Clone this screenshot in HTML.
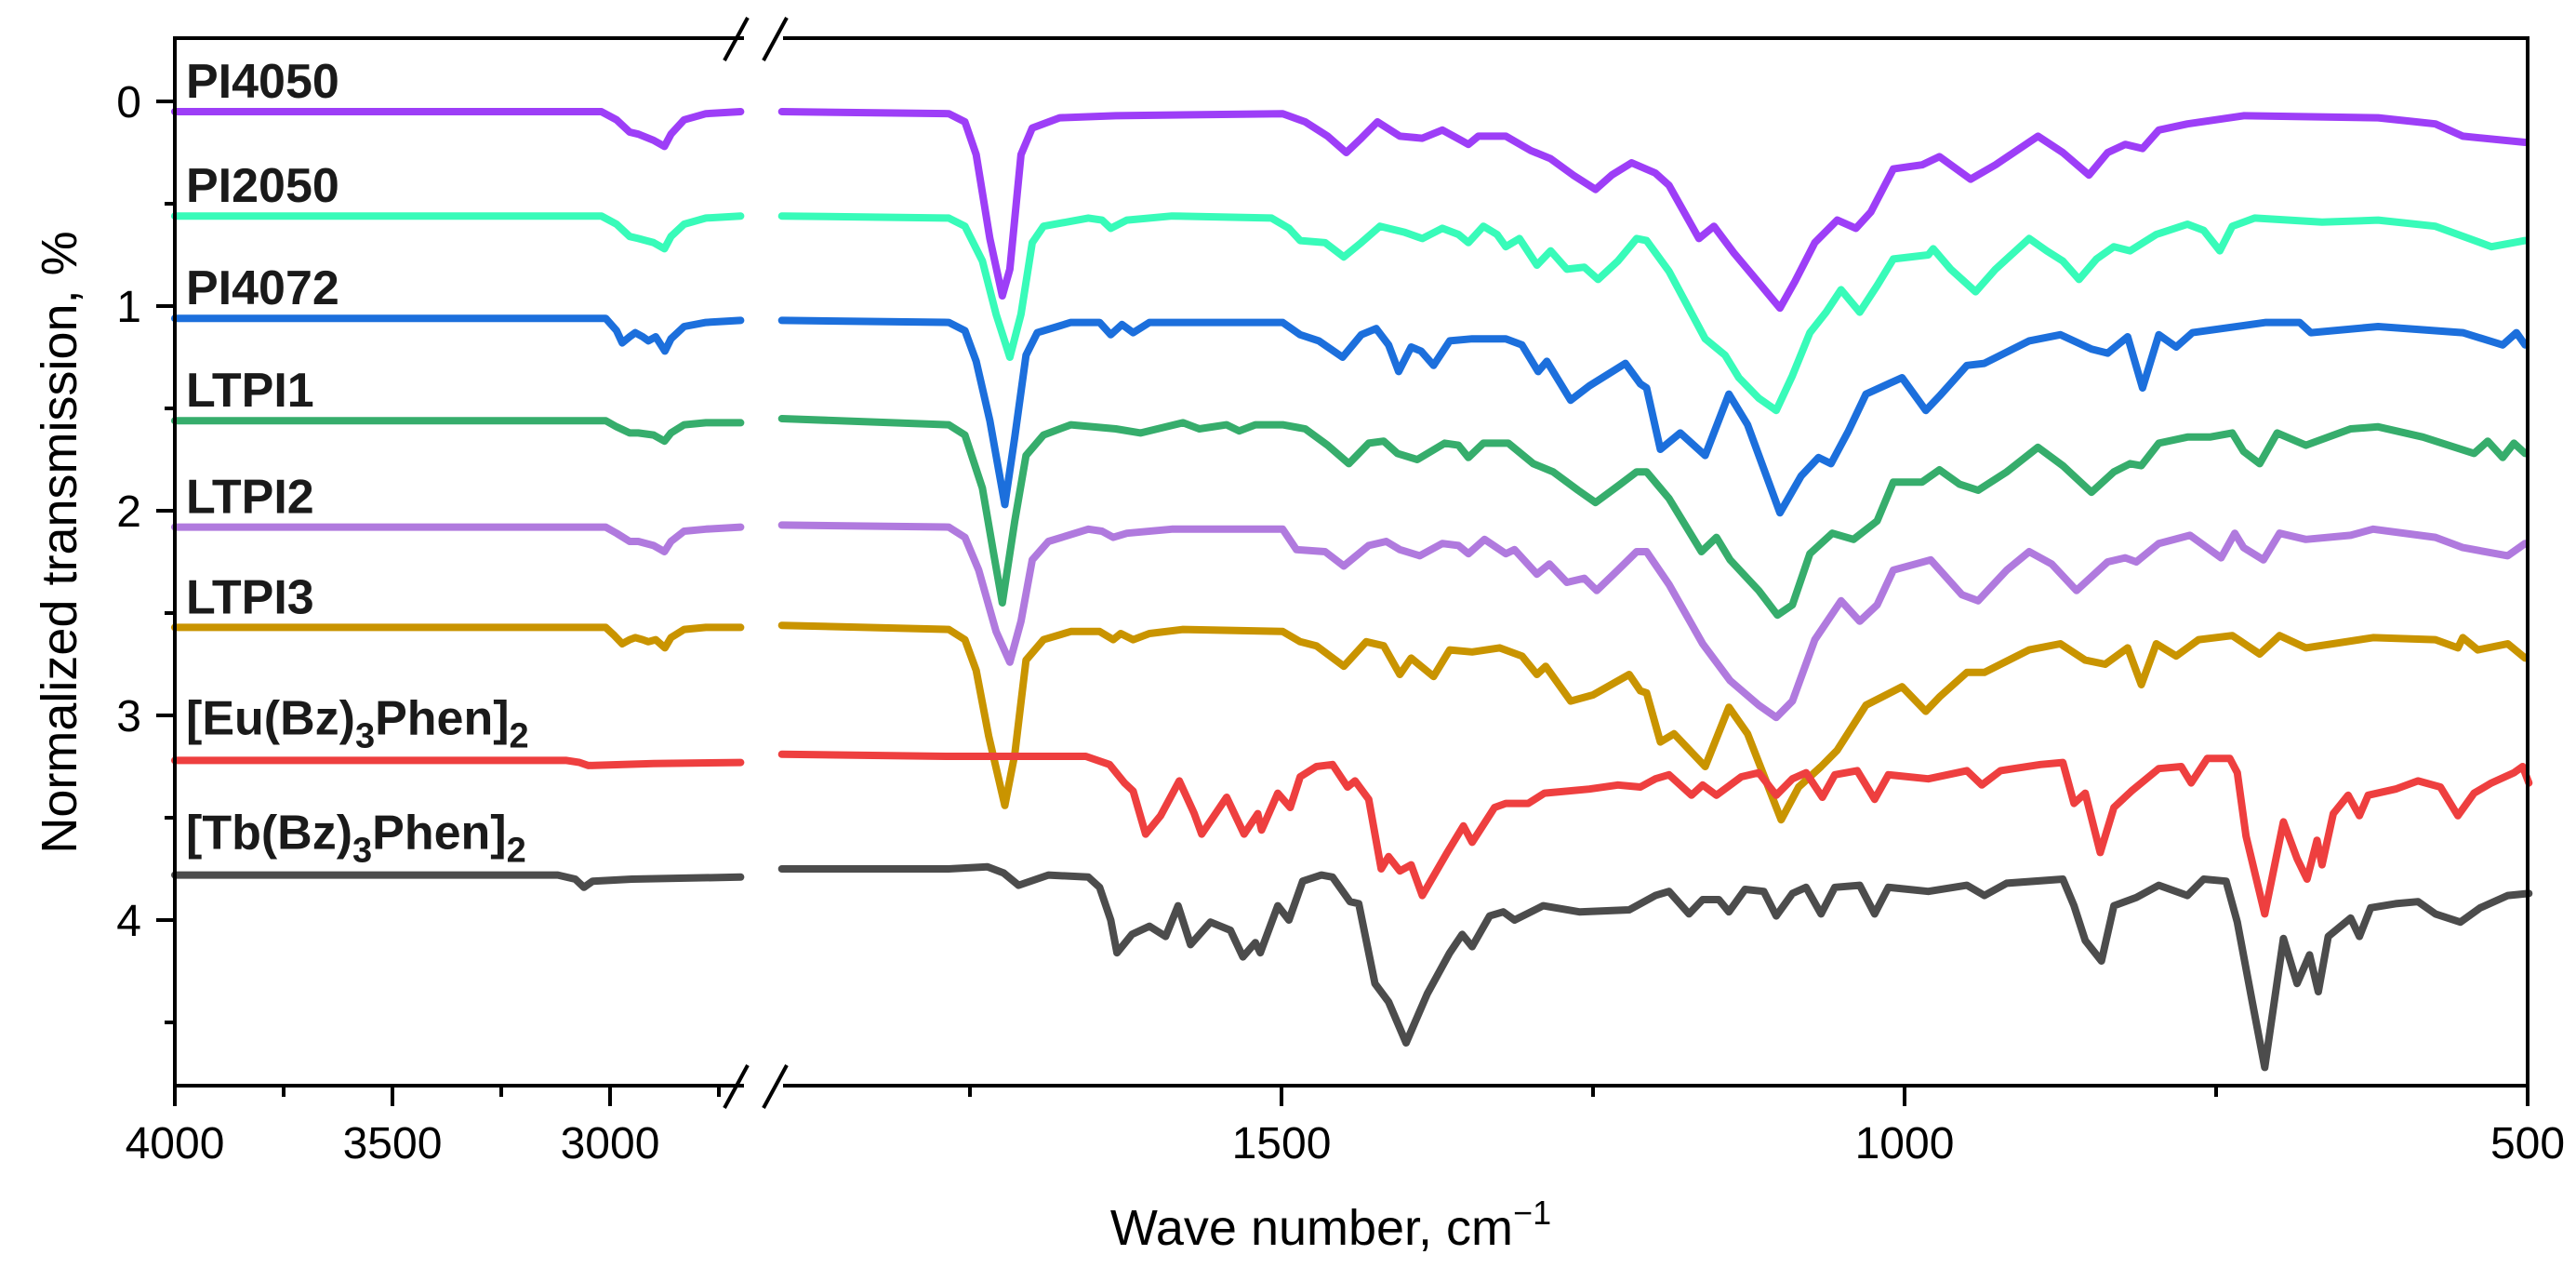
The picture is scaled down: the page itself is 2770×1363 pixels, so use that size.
<!DOCTYPE html>
<html><head><meta charset="utf-8"><title>FTIR spectra</title>
<style>
html,body{margin:0;padding:0;background:#fff;}
svg{display:block;font-family:"Liberation Sans",Arial,sans-serif;}
</style></head>
<body>
<svg id="chart" width="2770" height="1363" viewBox="0 0 2770 1363" xmlns="http://www.w3.org/2000/svg">
<rect x="0" y="0" width="2770" height="1363" fill="#fff"/>
<g id="series"></g>
<g id="axes"></g>
<g id="labels"></g>
</svg>
<script>
// ---- data (wavenumber, normalized transmission offset) ----
const yTicks = [0,1,2,3,4];
const xTicksLeft = [4000,3500,3000];
const xTicksRight = [1500,1000,500];
const xMinorLeft = [3750,3250,2750];
const xMinorRight = [1750,1250,750];
const seriesNames = ["PI4050","PI2050","PI4072","LTPI1","LTPI2","LTPI3","[Eu(Bz)3Phen]2","[Tb(Bz)3Phen]2"];
const seriesColors = ["#9d3ef7","#38fbb9","#1c6fdc","#36ad6c","#b07ade","#c99400","#ee3f3f","#4c4c4c"];

const pi4050WnL = [4000,3020,2985,2955,2935,2900,2875,2860,2830,2780,2700];
const pi4050ValL = [0.05,0.05,0.09,0.15,0.16,0.19,0.22,0.16,0.09,0.06,0.05];
const pi2050WnL = [4000,3020,2985,2955,2935,2900,2875,2860,2830,2780,2700];
const pi2050ValL = [0.56,0.56,0.60,0.66,0.67,0.69,0.72,0.66,0.60,0.57,0.56];
const pi4072WnL = [4000,3010,2985,2972,2955,2942,2925,2912,2895,2874,2860,2830,2780,2700];
const pi4072ValL = [1.06,1.06,1.12,1.18,1.15,1.13,1.15,1.17,1.15,1.22,1.16,1.10,1.08,1.07];
const ltpi1WnL = [4000,3010,2985,2955,2935,2900,2875,2860,2830,2780,2700];
const ltpi1ValL = [1.56,1.56,1.59,1.62,1.62,1.63,1.66,1.62,1.58,1.57,1.57];
const ltpi2WnL = [4000,3010,2985,2955,2935,2900,2875,2860,2830,2780,2700];
const ltpi2ValL = [2.08,2.08,2.11,2.15,2.15,2.17,2.20,2.15,2.10,2.09,2.08];
const ltpi3WnL = [4000,3010,2990,2972,2955,2942,2925,2912,2895,2874,2860,2830,2780,2700];
const ltpi3ValL = [2.57,2.57,2.61,2.65,2.63,2.62,2.63,2.64,2.63,2.67,2.62,2.58,2.57,2.57];
const euWnL = [4000,3500,3100,3070,3050,2900,2700];
const euValL = [3.22,3.22,3.22,3.23,3.245,3.235,3.23];
const tbWnL = [4000,3500,3120,3080,3060,3040,2950,2700];
const tbValL = [3.78,3.78,3.78,3.80,3.84,3.81,3.80,3.79];

const pi4050Wn = [1901,1767,1754,1745,1734,1724,1718,1709,1700,1678,1633,1499,1481,1463,1448,1436,1423,1405,1387,1371,1356,1350,1342,1320,1300,1284,1266,1248,1235,1219,1200,1189,1165,1153,1137,1115,1100,1088,1072,1054,1039,1027,1009,986,972,947,927,893,873,852,837,823,809,796,773,728,620,574,552,502];
const pi4050Val = [0.05,0.06,0.10,0.26,0.67,0.95,0.82,0.26,0.13,0.08,0.07,0.06,0.10,0.17,0.25,0.18,0.10,0.17,0.18,0.14,0.19,0.21,0.17,0.17,0.24,0.28,0.36,0.43,0.36,0.30,0.35,0.41,0.67,0.61,0.74,0.90,1.01,0.88,0.69,0.58,0.62,0.54,0.33,0.31,0.27,0.38,0.31,0.17,0.25,0.36,0.25,0.21,0.23,0.14,0.11,0.07,0.08,0.11,0.17,0.20];
const pi2050Wn = [1901,1767,1754,1740,1729,1718,1709,1700,1691,1655,1644,1637,1624,1588,1508,1494,1485,1465,1450,1436,1421,1401,1387,1371,1358,1350,1338,1327,1320,1309,1295,1284,1271,1257,1246,1230,1215,1207,1189,1160,1144,1133,1117,1103,1090,1076,1063,1051,1036,1022,1009,981,977,963,943,927,900,886,873,860,846,832,819,798,773,760,747,737,719,665,620,574,529,502];
const pi2050Val = [0.56,0.57,0.61,0.78,1.04,1.25,1.04,0.69,0.61,0.57,0.58,0.62,0.58,0.56,0.57,0.62,0.68,0.69,0.76,0.69,0.61,0.64,0.67,0.62,0.65,0.69,0.61,0.65,0.71,0.67,0.80,0.73,0.82,0.81,0.87,0.78,0.67,0.68,0.83,1.16,1.24,1.35,1.45,1.51,1.34,1.13,1.03,0.92,1.03,0.90,0.77,0.75,0.72,0.82,0.93,0.82,0.67,0.73,0.78,0.87,0.77,0.71,0.73,0.65,0.60,0.63,0.73,0.61,0.57,0.59,0.58,0.61,0.71,0.68];
const pi4072Wn = [1901,1767,1754,1745,1734,1722,1714,1705,1696,1669,1646,1637,1628,1619,1606,1499,1485,1470,1451,1436,1424,1414,1406,1396,1388,1378,1365,1347,1320,1307,1294,1287,1268,1253,1224,1212,1207,1196,1180,1160,1141,1126,1100,1083,1069,1059,1045,1031,1002,983,972,950,936,900,875,850,837,821,809,796,782,769,710,683,674,620,552,520,509,502];
const pi4072Val = [1.07,1.08,1.12,1.27,1.56,1.97,1.64,1.24,1.13,1.08,1.08,1.14,1.09,1.13,1.08,1.08,1.14,1.17,1.25,1.14,1.11,1.19,1.32,1.20,1.22,1.29,1.17,1.16,1.16,1.19,1.32,1.27,1.46,1.39,1.28,1.38,1.40,1.70,1.62,1.73,1.43,1.58,2.01,1.83,1.74,1.77,1.61,1.43,1.35,1.51,1.44,1.29,1.28,1.17,1.14,1.21,1.23,1.15,1.40,1.14,1.20,1.13,1.08,1.08,1.13,1.10,1.13,1.19,1.13,1.19];
const ltpi1Wn = [1901,1767,1754,1740,1731,1724,1714,1705,1691,1669,1633,1613,1579,1566,1544,1534,1521,1499,1481,1463,1446,1430,1418,1407,1391,1369,1358,1350,1338,1318,1298,1282,1262,1248,1228,1215,1207,1189,1163,1151,1140,1117,1102,1090,1076,1058,1041,1022,1009,986,972,956,941,918,893,873,850,832,819,810,796,773,755,737,728,715,701,678,642,620,584,543,532,520,511,502];
const ltpi1Val = [1.55,1.58,1.63,1.89,2.21,2.45,2.05,1.73,1.63,1.58,1.60,1.62,1.57,1.60,1.58,1.61,1.58,1.58,1.60,1.68,1.77,1.67,1.66,1.72,1.75,1.67,1.68,1.74,1.67,1.67,1.77,1.81,1.90,1.96,1.87,1.81,1.81,1.94,2.20,2.13,2.24,2.39,2.51,2.46,2.21,2.11,2.14,2.05,1.86,1.86,1.80,1.87,1.90,1.81,1.69,1.78,1.91,1.81,1.77,1.78,1.67,1.64,1.64,1.62,1.71,1.77,1.62,1.68,1.60,1.59,1.64,1.72,1.66,1.74,1.67,1.72];
const ltpi2Wn = [1901,1767,1754,1743,1729,1718,1709,1700,1687,1655,1644,1635,1624,1588,1499,1488,1465,1450,1430,1416,1405,1389,1371,1358,1350,1337,1320,1313,1295,1285,1271,1257,1247,1230,1215,1207,1189,1162,1140,1117,1103,1090,1072,1051,1036,1022,1009,979,954,941,918,900,882,862,837,823,814,796,771,746,735,728,712,699,678,642,624,574,552,516,502];
const ltpi2Val = [2.07,2.08,2.13,2.29,2.59,2.74,2.54,2.24,2.15,2.09,2.10,2.13,2.11,2.09,2.09,2.19,2.20,2.27,2.17,2.15,2.19,2.22,2.16,2.17,2.21,2.14,2.21,2.19,2.31,2.26,2.35,2.33,2.39,2.29,2.20,2.20,2.36,2.65,2.83,2.95,3.01,2.93,2.63,2.44,2.54,2.46,2.29,2.24,2.41,2.44,2.29,2.20,2.26,2.39,2.25,2.23,2.25,2.16,2.12,2.23,2.11,2.18,2.24,2.11,2.14,2.12,2.09,2.13,2.18,2.22,2.16];
const ltpi3Wn = [1901,1767,1754,1745,1735,1722,1714,1705,1691,1669,1646,1635,1629,1619,1606,1579,1499,1485,1472,1450,1432,1418,1405,1396,1378,1365,1347,1325,1307,1295,1288,1268,1250,1221,1212,1207,1196,1185,1160,1141,1126,1099,1085,1067,1054,1031,1002,983,972,950,936,900,875,855,839,821,810,798,782,764,737,715,699,678,624,574,556,552,540,516,502];
const ltpi3Val = [2.56,2.58,2.63,2.78,3.10,3.44,3.19,2.73,2.63,2.59,2.59,2.63,2.60,2.63,2.60,2.58,2.59,2.64,2.66,2.76,2.64,2.66,2.80,2.72,2.81,2.68,2.69,2.67,2.71,2.80,2.76,2.93,2.90,2.80,2.88,2.89,3.13,3.09,3.25,2.96,3.09,3.51,3.35,3.25,3.17,2.95,2.86,2.98,2.91,2.79,2.79,2.68,2.65,2.73,2.75,2.67,2.85,2.65,2.71,2.63,2.61,2.70,2.61,2.67,2.62,2.63,2.67,2.62,2.68,2.65,2.72];
const euWn = [1901,1767,1657,1638,1626,1619,1609,1597,1582,1570,1564,1544,1530,1519,1516,1503,1493,1485,1472,1459,1447,1441,1430,1420,1414,1405,1396,1387,1367,1354,1347,1329,1320,1302,1289,1253,1230,1212,1200,1189,1171,1162,1151,1131,1117,1103,1090,1079,1066,1056,1038,1024,1013,981,950,938,923,891,873,864,855,843,832,818,796,778,770,757,739,733,726,711,696,685,677,669,665,656,644,635,628,606,588,570,556,543,529,511,504,499];
const euVal = [3.19,3.20,3.20,3.24,3.33,3.37,3.58,3.49,3.32,3.48,3.58,3.40,3.58,3.48,3.56,3.38,3.45,3.30,3.25,3.24,3.35,3.32,3.41,3.75,3.69,3.76,3.73,3.88,3.67,3.54,3.62,3.45,3.43,3.43,3.38,3.36,3.34,3.35,3.31,3.29,3.39,3.34,3.39,3.30,3.28,3.39,3.31,3.28,3.40,3.29,3.27,3.41,3.29,3.31,3.27,3.34,3.27,3.24,3.23,3.43,3.38,3.67,3.45,3.37,3.26,3.25,3.33,3.21,3.21,3.28,3.59,3.97,3.52,3.70,3.80,3.61,3.73,3.48,3.39,3.49,3.39,3.36,3.32,3.35,3.49,3.38,3.33,3.28,3.25,3.33];
const tbWn = [1901,1767,1736,1723,1711,1687,1655,1646,1637,1632,1620,1606,1593,1583,1573,1557,1541,1531,1521,1517,1503,1494,1483,1468,1459,1445,1438,1425,1414,1400,1383,1365,1355,1347,1333,1322,1313,1290,1261,1221,1200,1189,1173,1162,1149,1141,1128,1113,1103,1090,1079,1067,1056,1036,1024,1013,981,950,936,918,873,864,855,842,832,814,796,773,760,742,733,721,711,696,685,675,668,660,642,635,626,606,588,574,554,538,516,499];
const tbVal = [3.75,3.75,3.74,3.77,3.83,3.78,3.79,3.84,4.00,4.16,4.07,4.03,4.08,3.93,4.12,4.01,4.05,4.18,4.11,4.16,3.93,4.00,3.81,3.78,3.79,3.91,3.92,4.31,4.40,4.60,4.36,4.16,4.07,4.13,3.98,3.96,4.00,3.93,3.96,3.95,3.88,3.86,3.97,3.90,3.90,3.96,3.85,3.86,3.98,3.87,3.84,3.97,3.84,3.83,3.97,3.84,3.86,3.83,3.88,3.82,3.80,3.93,4.10,4.20,3.93,3.89,3.83,3.88,3.80,3.81,4.01,4.40,4.72,4.09,4.31,4.17,4.35,4.08,3.99,4.08,3.94,3.92,3.91,3.97,4.01,3.94,3.88,3.87];

const leftWn = [pi4050WnL,pi2050WnL,pi4072WnL,ltpi1WnL,ltpi2WnL,ltpi3WnL,euWnL,tbWnL];
const leftVal = [pi4050ValL,pi2050ValL,pi4072ValL,ltpi1ValL,ltpi2ValL,ltpi3ValL,euValL,tbValL];
const rightWn = [pi4050Wn,pi2050Wn,pi4072Wn,ltpi1Wn,ltpi2Wn,ltpi3Wn,euWn,tbWn];
const rightVal = [pi4050Val,pi2050Val,pi4072Val,ltpi1Val,ltpi2Val,ltpi3Val,euVal,tbVal];

// ---- scales ----
const PL = 188, PR = 2718, PT = 41, PB = 1167;
function yS(v){ return 109 + 220*v; }
function xLeft(w){ return 188 + (4000 - w)*0.468; }
function xRight(w){ return 1378 + (1500 - w)*1.34; }

const NS = "http://www.w3.org/2000/svg";
function mk(tag, attrs, parent){
  const e = document.createElementNS(NS, tag);
  for (const k in attrs) e.setAttribute(k, attrs[k]);
  parent.appendChild(e);
  return e;
}
const gS = document.getElementById('series');
const gA = document.getElementById('axes');
const gL = document.getElementById('labels');

for (let i = 0; i < seriesNames.length; i++){
  const slug = seriesNames[i].replace(/[^A-Za-z0-9]/g,'').toLowerCase();
  const ptsL = leftWn[i].map((w,j)=> xLeft(w).toFixed(1)+','+yS(leftVal[i][j]).toFixed(1)).join(' ');
  const pl = mk('polyline', {points: ptsL, fill:'none', stroke: seriesColors[i], 'stroke-width': 8, 'stroke-linejoin':'round', 'stroke-linecap':'round'}, gS);
  
  
  const ptsR = rightWn[i].map((w,j)=> xRight(w).toFixed(1)+','+yS(rightVal[i][j]).toFixed(1)).join(' ');
  const pr = mk('polyline', {points: ptsR, fill:'none', stroke: seriesColors[i], 'stroke-width': 8, 'stroke-linejoin':'round', 'stroke-linecap':'round'}, gS);
  
  
}

const BL = 800, BR = 842;
const frameSegs = [[PL,PT,BL,PT],[BR,PT,PR,PT],[PL,PB,BL,PB],[BR,PB,PR,PB],[PL,PT-2,PL,PB+2],[PR,PT-2,PR,PB+2]];
frameSegs.forEach(s=>{
  const l = mk('line',{x1:s[0],y1:s[1],x2:s[2],y2:s[3],stroke:'#000','stroke-width':4},gA);
  
  
});
[[PT],[PB]].forEach(r=>{
  const yc = r[0];
  [[779,yc+24,804,yc-22],[821,yc+24,846,yc-22]].forEach(s=>{
    const l = mk('line',{x1:s[0],y1:s[1],x2:s[2],y2:s[3],stroke:'#000','stroke-width':4},gA);
    
    
  });
});

yTicks.forEach(v=>{
  const y = yS(v);
  const t = mk('line',{x1:PL-20,y1:y,x2:PL,y2:y,stroke:'#000','stroke-width':4},gA);
  
  
  const tx = mk('text',{x:PL-36,y:y+17,'text-anchor':'end','font-size':48,fill:'#000'},gA);
  tx.textContent = String(v);
  
  
  const ym = yS(v+0.5);
  if (ym < PB){
    const m = mk('line',{x1:PL-11,y1:ym,x2:PL,y2:ym,stroke:'#000','stroke-width':4},gA);
    
    
  }
});
function xTick(x, label, major){
  const t = mk('line',{x1:x,y1:PB,x2:x,y2:PB+(major?22:12),stroke:'#000','stroke-width':4},gA);
  
  
  if (label !== null){
    const tx = mk('text',{x:x,y:1245,'text-anchor':'middle','font-size':48,fill:'#000'},gA);
    tx.textContent = label;
    
    
  }
}
xTicksLeft.forEach(w=>xTick(xLeft(w), String(w), true));
xTicksRight.forEach(w=>xTick(xRight(w), String(w), true));
xMinorLeft.forEach(w=>xTick(xLeft(w), null, false));
xMinorRight.forEach(w=>xTick(xRight(w), null, false));

const labelBase = [pi4050ValL[0],pi2050ValL[0],pi4072ValL[0],ltpi1ValL[0],ltpi2ValL[0],ltpi3ValL[0],euValL[0],tbValL[0]];
seriesNames.forEach((n,i)=>{
  const y = yS(labelBase[i]) - (i>=6 ? 28 : 15);
  const tx = mk('text',{x:200,y:y,'font-size':52,'font-weight':'bold',fill:'#1a1a1a'},gL);
  const m = n.match(/^\[(\w+)\(Bz\)3Phen\]2$/);
  if (m){
    const a = mk('tspan',{},tx); a.textContent = '['+m[1]+'(Bz)';
    const b = mk('tspan',{dy:14,'font-size':38},tx); b.textContent = '3';
    const c = mk('tspan',{dy:-14},tx); c.textContent = 'Phen]';
    const d = mk('tspan',{dy:14,'font-size':38},tx); d.textContent = '2';
  } else {
    tx.textContent = n;
  }
  
  
});

const xt = mk('text',{x:1431,y:1338,'text-anchor':'middle','font-size':54,fill:'#000'},gA);
xt.textContent = 'Wave number, cm';
const sup = mk('tspan',{dy:-22,'font-size':36},xt); sup.textContent = '\u22121';


const yt = mk('text',{x:0,y:0,'text-anchor':'middle','font-size':54,fill:'#000',transform:'translate(82,583) rotate(-90)'},gA);
yt.textContent = 'Normalized transmission, %';


</script>
</body></html>
